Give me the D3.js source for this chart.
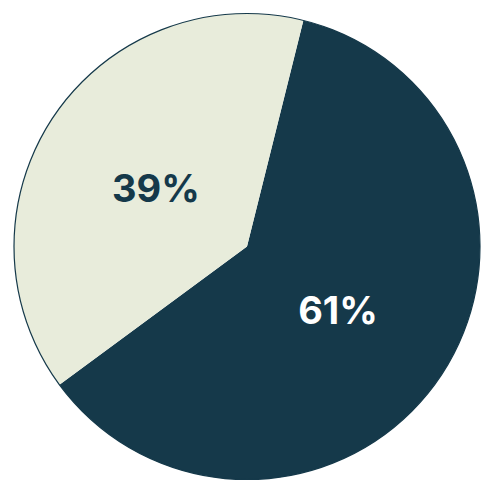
<!DOCTYPE html>
<html>
<head>
<meta charset="utf-8">
<script src="https://cdn.jsdelivr.net/npm/d3@7"></script>
<style>
  html, body { margin: 0; padding: 0; background: #fff; }
</style>
</head>
<body>
<div id="viz"></div>
<script>
const width = 500;
const height = 500;
const radius = 233;
const cx = 247, cy = 246.5;

const categories = ['A', 'B'];
const values = [61, 39];
const labels = ['61%', '39%'];
const fills = ['#15394a', '#e8ecdb'];
const textColors = ['#ffffff', '#15394a'];

const data = categories.map((c, i) => ({ cat: c, value: values[i], label: labels[i] }));

const svg = d3.select('#viz')
    .append('svg')
    .attr('width', width)
    .attr('height', height);

const g = svg.append('g')
    .attr('transform', `translate(${cx},${cy})`);

// start the big slice a bit past 12 o'clock
const start = 14 * Math.PI / 180;
const pie = d3.pie()
    .sort(null)
    .value(d => d.value)
    .startAngle(start)
    .endAngle(start + 2 * Math.PI);

const arc = d3.arc().innerRadius(0).outerRadius(radius);
const labelArc = d3.arc().innerRadius(radius * 0.47).outerRadius(radius * 0.47);

const arcs = pie(data);

g.selectAll('path')
    .data(arcs)
    .join('path')
    .attr('d', arc)
    .attr('fill', (d, i) => fills[i]);

g.append('circle')
    .attr('r', radius)
    .attr('fill', 'none')
    .attr('stroke', '#15394a')
    .attr('stroke-width', 1.2);

g.selectAll('text')
    .data(arcs)
    .join('text')
    .attr('transform', d => `translate(${labelArc.centroid(d)})`)
    .attr('dy', '0.07em')
    .attr('text-anchor', 'middle')
    .attr('dominant-baseline', 'central')
    .attr('font-family', 'Inter, "Noto Sans", sans-serif')
    .attr('font-weight', 700)
    .attr('font-size', 38)
    .attr('fill', (d, i) => textColors[i])
    .text(d => d.data.label);
</script>
</body>
</html>
